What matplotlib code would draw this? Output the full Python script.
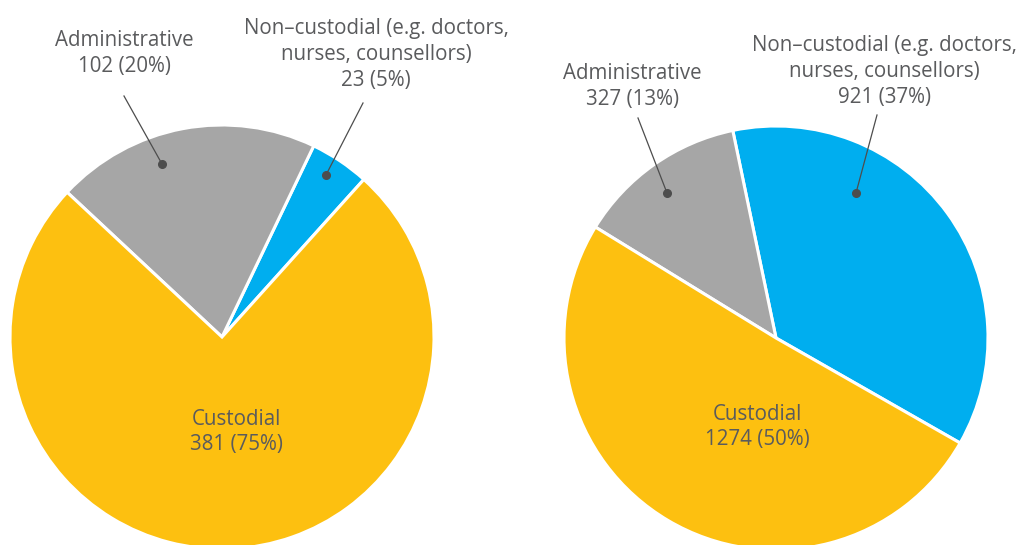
import matplotlib.pyplot as plt

plt.rcParams['font.family'] = ['Open Sans', 'DejaVu Sans']

labels = ["Non\u2013custodial (e.g. doctors,\nnurses, counsellors)", "Administrative", "Custodial"]
left_values = [23, 102, 381]
right_values = [921, 327, 1274]
left_pct = [5, 20, 75]
right_pct = [37, 13, 50]
colors = ["#00AEEF", "#A6A6A6", "#FDC010"]
text_color = "#5A5B5D"

W, H = 1027, 545
fig = plt.figure(figsize=(W / 100, H / 100), dpi=100)
ax = fig.add_axes([0, 0, 1, 1])

wedge = dict(edgecolor='white', linewidth=2.2)
ax.pie(left_values, colors=colors, startangle=48, counterclock=True,
       center=(222, H - 337), radius=212, wedgeprops=wedge, frame=True)
ax.pie(right_values, colors=colors, startangle=-29.7, counterclock=True,
       center=(776, H - 338), radius=212, wedgeprops=wedge, frame=True)
ax.set_xlim(0, W)
ax.set_ylim(0, H)
ax.set_aspect('equal')
ax.axis('off')

FS = 14.8
LS = 1.3


def callout(text, tx, ty, dot, tip):
    ax.text(tx, H - ty, text, ha='center', va='bottom', fontsize=FS,
            color=text_color, linespacing=LS)
    ax.plot([dot[0], tip[0]], [H - dot[1], H - tip[1]], color="#4D4D4D", lw=0.9)
    ax.plot(dot[0], H - dot[1], 'o', color="#4D4D4D", ms=5.5)


callout(f"{labels[1]}\n{left_values[1]} ({left_pct[1]}%)", 124, 77, (162, 164), (124, 96))
callout(f"{labels[0]}\n{left_values[0]} ({left_pct[0]}%)", 376, 91, (326, 175), (363, 103))
callout(f"{labels[1]}\n{right_values[1]} ({right_pct[1]}%)", 632, 110, (667, 193), (638, 118))
callout(f"{labels[0]}\n{right_values[0]} ({right_pct[0]}%)", 884, 108, (856, 193), (877, 115))

ax.text(236, H - 432, f"{labels[2]}\n{left_values[2]} ({left_pct[2]}%)", ha='center', va='center',
        fontsize=FS, color=text_color, linespacing=LS)
ax.text(757, H - 427, f"{labels[2]}\n{right_values[2]} ({right_pct[2]}%)", ha='center', va='center',
        fontsize=FS, color=text_color, linespacing=LS)

fig.savefig("out.png", dpi=100)
